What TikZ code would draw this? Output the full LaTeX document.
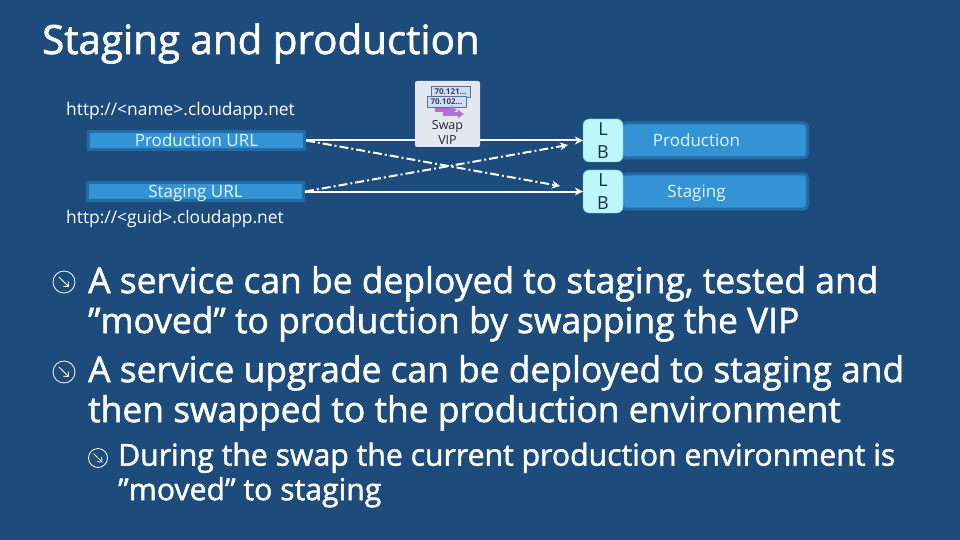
\documentclass[tikz,border=0pt]{standalone}
\usepackage{fontspec}
\setmainfont{Open Sans}
\newfontfamily\headfont[FakeBold=1.5]{Open Sans}
\usetikzlibrary{arrows.meta, positioning}
\definecolor{slidebg}{RGB}{29,75,123}
\definecolor{barfill}{RGB}{51,147,212}
\definecolor{barline}{RGB}{36,107,165}
\definecolor{lbfill}{RGB}{190,247,250}
\definecolor{lbtext}{RGB}{20,50,70}
\definecolor{paletext}{RGB}{225,248,252}
\definecolor{iconfill}{RGB}{226,232,238}
\definecolor{ipfill}{RGB}{205,222,248}
\definecolor{ipline}{RGB}{90,110,150}
\definecolor{ipviolet}{RGB}{178,110,215}
\tikzset{
  urlbar/.style={
    draw=barline,
    line width=3pt,
    fill=barfill,
    minimum height=18pt,
    text=paletext,
    text height=14pt,
    text depth=2pt,
    font=\fontsize{17}{18}\selectfont,
    inner sep=0pt
  },
  envbar/.style={
    urlbar,
    rounded corners=4pt,
    minimum width=186pt,
    minimum height=35pt
  },
  lbbox/.style={
    draw=barfill!60!lbfill,
    fill=lbfill,
    rounded corners=6pt,
    minimum width=40pt,
    minimum height=43pt,
    align=center,
    inner sep=0pt,
    text=lbtext,
    font=\fontsize{18}{23}\selectfont
  },
  urltext/.style={
    anchor=base west,
    inner sep=0pt,
    text=white,
    font=\fontsize{17.4}{18}\selectfont
  },
  bodytext/.style={
    anchor=north west,
    inner sep=0pt,
    align=left,
    text=white,
    font=\headfont\fontsize{35.4}{40}\selectfont
  },
  subtext/.style={
    bodytext,
    font=\headfont\fontsize{30.2}{34.5}\selectfont
  },
  bulletmark/.style={
    draw=white,
    circle,
    line width=0.8pt,
    inner sep=0pt
  },
  arrow/.style={
    -{Stealth[length=8pt,width=8pt]},
    white,
    line width=2pt
  },
  swaparrow/.style={
    arrow,
    dash pattern=on 9pt off 3pt on 2pt off 3pt
  },
  iptag/.style={
    draw=ipline,
    fill=ipfill,
    minimum width=39pt,
    minimum height=11pt,
    inner sep=0pt,
    text=black!75,
    font=\bfseries\fontsize{8}{8}\selectfont
  },
  ipshift/.style={
    -{Latex[length=6pt,width=10pt]},
    ipviolet,
    line width=4pt
  },
  swaptext/.style={
    anchor=base,
    inner sep=0pt,
    text=black!85,
    font=\fontsize{12.5}{12}\selectfont
  }
}
\begin{document}
\begin{tikzpicture}[x=1pt,y=-1pt]
  \fill[slidebg] (0,0) rectangle (960,540);
  \useasboundingbox (0,0) rectangle (960,540);

  % Title
  \node[anchor=base west,inner sep=0pt,text=white,font=\headfont\fontsize{40.3}{40}\selectfont] (title) at (42,54) {Staging and production};

  % URLs
  \node[urltext] (nameurl) at (66,116) {http://<name>.cloudapp.net};
  \node[urlbar, minimum width=216pt] (produrl) at (196.5,140.5) {Production URL};
  \node[urlbar, minimum width=216pt] (stagurl) at (195.5,191.5) {Staging URL};
  \node[urltext] (guidurl) at (66,223) {http://<guid>.cloudapp.net};

  % Environments
  \node[envbar] (prodenv) at (714.5,140.5) {\hspace*{-36pt}Production};
  \node[envbar] (stagenv) at (714.5,191.5) {\hspace*{-36pt}Staging};
  \node[lbbox] (lbprod) at (603,140.5) {L\\B};
  \node[lbbox] (lbstag) at (603,191.5) {L\\B};

  % Arrows
  \coordinate (crossprod) at (560,186);
  \coordinate (crossstag) at (568,145);
  \draw[arrow] (produrl.east) -- (lbprod.west);
  \draw[arrow] (stagurl.east) -- (lbstag.west);
  \draw[swaparrow] (produrl.east) -- (crossprod);
  \draw[swaparrow] (stagurl.east) -- (crossstag);

  % Swap VIP button
  \node[fill=iconfill,rounded corners=2pt,minimum width=65pt,minimum height=66pt,inner sep=0pt] (swapvip) at (447.5,114) {};
  \node[iptag] (ipone) at (450.5,92) {70.121...};
  \node[iptag] (iptwo) at (446.5,101.5) {70.102...};
  \coordinate (shiftone) at (435,110);
  \coordinate (shiftonetip) at (457,110);
  \coordinate (shifttwo) at (443,114);
  \coordinate (shifttwotip) at (464,114);
  \draw[ipshift] (shiftone) -- (shiftonetip);
  \draw[ipshift] (shifttwo) -- (shifttwotip);
  \node[swaptext] (swaptop) at (447.5,130) {Swap};
  \node[swaptext] (swapbottom) at (447.5,144.5) {VIP};

  % Bullets
  \node[bulletmark,minimum size=22pt] (bulletone) at (64,282) {};
  \node[bulletmark,minimum size=22pt] (bullettwo) at (64,372) {};
  \node[bulletmark,minimum size=19pt] (bulletsub) at (98,458) {};
  \foreach \mark/\len in {bulletone/5,bullettwo/5,bulletsub/4.5} {
    \draw[-{Straight Barb[length=4pt,width=7pt]},white,line width=0.8pt] ([shift={(-\len pt,\len pt)}]\mark.center) -- ([shift={(\len pt,-\len pt)}]\mark.center);
  }

  % Text
  \node[bodytext] (pointone) at (88,266) {A service can be deployed to staging, tested and\\”moved” to production by swapping the VIP};
  \node[bodytext] (pointtwo) at (88,355) {A service upgrade can be deployed to staging and\\then swapped to the production environment};
  \node[subtext] (pointsub) at (118,442.5) {During the swap the current production environment is\\”moved” to staging};
\end{tikzpicture}
\end{document}
